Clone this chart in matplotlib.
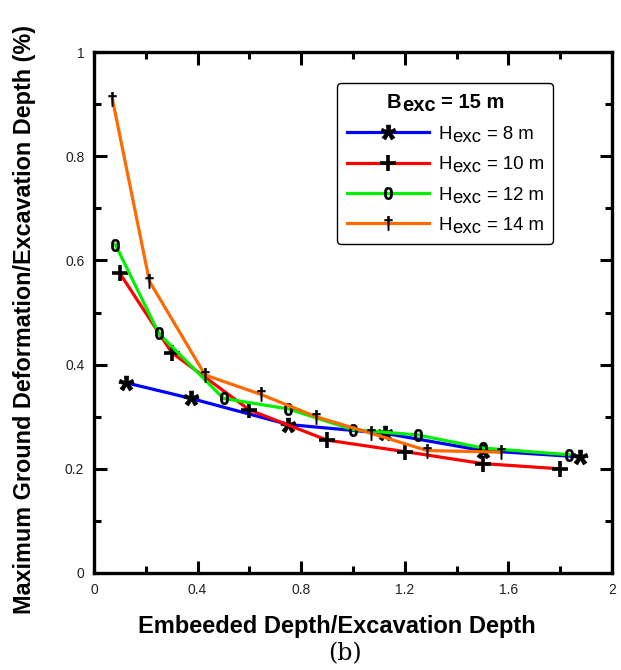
import matplotlib
matplotlib.use("Agg")
import matplotlib.pyplot as plt

plt.rcParams['font.family'] = ['Liberation Sans', 'DejaVu Sans']
plt.rcParams['mathtext.fontset'] = 'custom'
plt.rcParams['mathtext.rm'] = 'Liberation Sans'
plt.rcParams['mathtext.it'] = 'Liberation Sans:italic'
plt.rcParams['mathtext.bf'] = 'Liberation Sans:bold'

# Data
x_h8 = [0.125, 0.375, 0.75, 1.125, 1.5, 1.875]
y_h8 = [0.365, 0.335, 0.285, 0.268, 0.235, 0.223]

x_h10 = [0.1, 0.3, 0.6, 0.9, 1.2, 1.5, 1.8]
y_h10 = [0.575, 0.423, 0.313, 0.255, 0.233, 0.21, 0.2]

x_h12 = [0.083, 0.25, 0.5, 0.75, 1.0, 1.25, 1.5, 1.833]
y_h12 = [0.63, 0.46, 0.335, 0.315, 0.275, 0.265, 0.24, 0.227]

x_h14 = [0.071, 0.214, 0.429, 0.643, 0.857, 1.071, 1.286, 1.571]
y_h14 = [0.91, 0.56, 0.38, 0.343, 0.30, 0.268, 0.235, 0.232]

series_values = ['8 m', '10 m', '12 m', '14 m']
legend_title_value = '15 m'
xticks = [0, 0.4, 0.8, 1.2, 1.6, 2]
xticklabels = ['0', '0.4', '0.8', '1.2', '1.6', '2']
yticks = [0, 0.2, 0.4, 0.6, 0.8, 1]
yticklabels = ['0', '0.2', '0.4', '0.6', '0.8', '1']

W, H = 621, 670
fig = plt.figure(figsize=(W / 100, H / 100), dpi=100)
ax = fig.add_axes([94 / W, 1 - 573 / H, (612 - 94) / W, (573 - 52) / H])

lw = 2.3
ax.plot(x_h8, y_h8, color='#0000ff', lw=lw, marker=r'$\mathbf{*}$', ms=11,
        mfc='k', mec='k', mew=0.5, label='Hexc = ' + series_values[0])
ax.plot(x_h10, y_h10, color='#ff0000', lw=lw, marker='+', ms=12,
        mfc='k', mec='k', mew=2.6, label='Hexc = ' + series_values[1])
ax.plot(x_h12, y_h12, color='#00f000', lw=lw, marker=r'$\mathbf{0}$', ms=9,
        mfc='k', mec='k', mew=0.4, label='Hexc = ' + series_values[2])
ax.plot(x_h14, y_h14, color='#ff6a00', lw=lw, marker=r'$\dagger$', ms=10,
        mfc='k', mec='k', mew=0.6, label='Hexc = ' + series_values[3])

ax.set_xlim(0, 2)
ax.set_ylim(0, 1)
ax.set_xticks(xticks)
ax.set_xticklabels(xticklabels)
ax.set_xticks([0.2, 0.6, 1.0, 1.4, 1.8], minor=True)
ax.set_yticks(yticks)
ax.set_yticklabels(yticklabels)
ax.set_yticks([0.1, 0.3, 0.5, 0.7, 0.9], minor=True)

for s in ax.spines.values():
    s.set_linewidth(2.4)
ax.tick_params(which='both', direction='in', top=True, right=True,
               labelsize=10, width=2.2, color='k', labelcolor='#222222')
ax.tick_params(which='major', length=9, pad=7)
ax.tick_params(which='minor', length=5)

fig.text(336.5 / W, 1 - 627 / H, 'Embeeded Depth/Excavation Depth', fontsize=17,
         fontweight='bold', ha='center', va='center')
fig.text(25 / W, 1 - 320 / H, 'Maximum Ground Deformation/Excavation Depth (%)',
         fontsize=16.8, fontweight='bold', ha='center', va='center', rotation=90)

fs = 13.4
tfs = 14.5
leg = ax.legend(loc='upper left', bbox_to_anchor=((337 - 94) / 518, (573 - 83) / 521),
                borderaxespad=0, fontsize=fs,
                title='Bexc = ' + legend_title_value, title_fontsize=tfs,
                handlelength=4.4, handletextpad=0.48, labelspacing=0.72,
                borderpad=0.55, fancybox=True, framealpha=1, edgecolor='k',
                numpoints=1)
leg.get_frame().set_linewidth(1.0)
leg.set_zorder(5)
ttl = leg.get_title()
ttl.set_fontweight('bold')

# lay out once to find where the placeholder legend texts sit
fig.canvas.draw()


def subscript_label(txt, main, sub, rest, size, weight):
    """Replace a placeholder text by text with a full-size lowered subscript."""
    bb = txt.get_window_extent()
    txt.set_visible(False)
    a1 = ax.annotate(main, xy=(bb.x0, bb.y0), xycoords='figure pixels',
                     ha='left', va='bottom', fontsize=size, fontweight=weight,
                     zorder=10)
    a2 = ax.annotate(sub, xy=(1, 0), xycoords=a1, xytext=(0.6, -2.3),
                     textcoords='offset points', ha='left', va='bottom',
                     fontsize=size, fontweight=weight, zorder=10)
    ax.annotate(rest, xy=(1, 0), xycoords=a2, xytext=(0.3 * size, 2.3),
                textcoords='offset points', ha='left', va='bottom',
                fontsize=size, fontweight=weight, zorder=10)


for t, v in zip(leg.get_texts(), series_values):
    subscript_label(t, 'H', 'exc', '= ' + v, fs, 'normal')
subscript_label(ttl, 'B', 'exc', '= ' + legend_title_value, tfs, 'bold')

fig.text(344.5 / W, 1 - 654 / H, '(b)', fontsize=17, family='DejaVu Serif',
         ha='center', va='center')

fig.savefig('out.png', dpi=100)
